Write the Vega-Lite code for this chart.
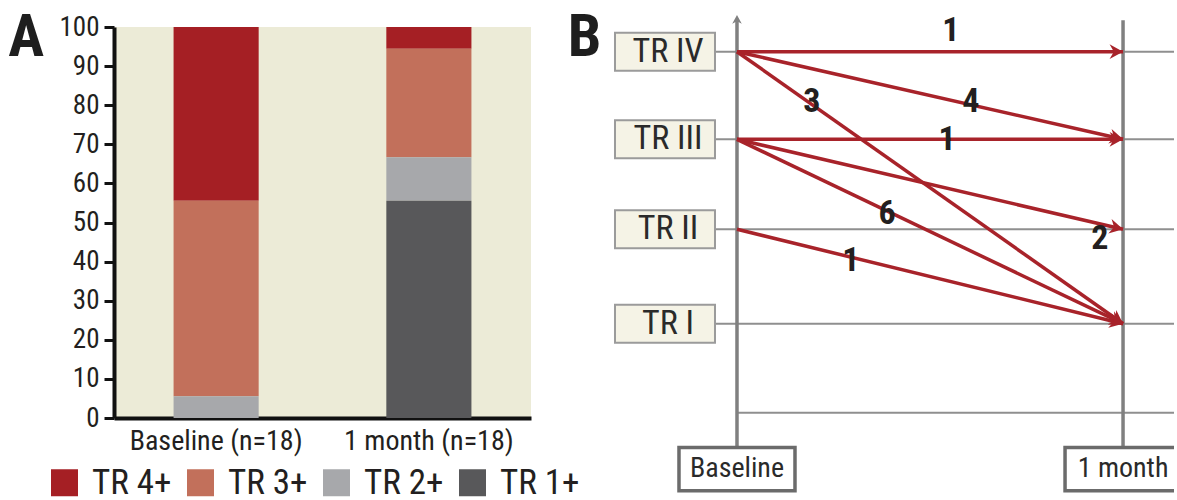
{
  "$schema": "https://vega.github.io/schema/vega-lite/v6.json",
  "background": "white",
  "padding": {"left": 8, "top": 8, "right": 0, "bottom": 0},
  "spacing": 84,
  "bounds": "flush",
  "config": {
    "font": "'Roboto Condensed', Roboto, sans-serif",
    "view": {"stroke": null},
    "axis": {"labelFont": "'Roboto Condensed', Roboto, sans-serif", "labelColor": "#231f20", "grid": false, "title": null, "labelLimit": 0},
    "legend": {"labelFont": "'Roboto Condensed', Roboto, sans-serif", "labelLimit": 0},
    "title": {"font": "'Roboto Condensed', Roboto, sans-serif"},
    "text": {"font": "'Roboto Condensed', Roboto, sans-serif"}
  },
  "datasets": {
    "shares": [
      {"visit": "Baseline (n=18)", "grade": "TR 4+", "pct": 44.44},
      {"visit": "Baseline (n=18)", "grade": "TR 3+", "pct": 50.0},
      {"visit": "Baseline (n=18)", "grade": "TR 2+", "pct": 5.56},
      {"visit": "1 month (n=18)", "grade": "TR 4+", "pct": 5.56},
      {"visit": "1 month (n=18)", "grade": "TR 3+", "pct": 27.78},
      {"visit": "1 month (n=18)", "grade": "TR 2+", "pct": 11.11},
      {"visit": "1 month (n=18)", "grade": "TR 1+", "pct": 55.55}
    ],
    "levels": [
      {"level": 4, "label": "TR IV"},
      {"level": 3, "label": "TR III"},
      {"level": 2, "label": "TR II"},
      {"level": 1, "label": "TR I"},
      {"level": 0, "label": ""}
    ],
    "times": [
      {"time": 0, "label": "Baseline"},
      {"time": 1, "label": "1 month"}
    ],
    "flows": [
      {"from": 4, "to": 4, "n": 1, "lx": 0.554, "ly": 4.231},
      {"from": 4, "to": 3, "n": 4, "lx": 0.606, "ly": 3.426},
      {"from": 4, "to": 1, "n": 3, "lx": 0.194, "ly": 3.426},
      {"from": 3, "to": 3, "n": 1, "lx": 0.544, "ly": 2.992},
      {"from": 3, "to": 2, "n": 2, "lx": 0.94, "ly": 1.897},
      {"from": 3, "to": 1, "n": 6, "lx": 0.389, "ly": 2.17},
      {"from": 2, "to": 1, "n": 1, "lx": 0.295, "ly": 1.664}
    ]
  },
  "hconcat": [
    {
      "width": 417,
      "height": 391,
      "view": {"fill": "#ecebd7", "stroke": null},
      "title": {"text": "A", "orient": "left", "anchor": "end", "frame": "group", "angle": 0, "align": "right", "baseline": "top", "fontSize": 60, "fontWeight": "bold", "color": "#1e1e1e", "offset": -21, "dy": -18},
      "data": {"name": "shares"},
      "mark": {"type": "bar"},
      "encoding": {
        "x": {
          "field": "visit", "type": "nominal",
          "sort": ["Baseline (n=18)", "1 month (n=18)"],
          "scale": {"paddingInner": 0.6, "paddingOuter": 0.28},
          "axis": {"labelAngle": 0, "labelFontSize": 28, "labelPadding": 9, "ticks": false, "domainColor": "#111111", "domainWidth": 4}
        },
        "y": {
          "field": "pct", "type": "quantitative", "stack": "zero",
          "scale": {"domain": [0, 100], "nice": false},
          "axis": {"values": [0, 10, 20, 30, 40, 50, 60, 70, 80, 90, 100], "labelFontSize": 27, "labelPadding": 5, "domainColor": "#111111", "domainWidth": 4, "tickColor": "#111111", "tickWidth": 3, "tickSize": 10}
        },
        "color": {
          "field": "grade", "type": "nominal",
          "scale": {"domain": ["TR 4+", "TR 3+", "TR 2+", "TR 1+"], "range": ["#a51f24", "#c2705b", "#a7a8ab", "#58585a"]},
          "legend": {"title": null, "orient": "none", "legendX": -67, "legendY": 438, "direction": "horizontal", "columns": 4, "symbolType": "square", "symbolSize": 729, "symbolStrokeWidth": 0, "symbolOpacity": 1, "labelFontSize": 35, "labelColor": "#231f20", "labelOffset": 10, "columnPadding": 11, "padding": 0}
        },
        "order": {"field": "grade", "sort": "ascending"}
      }
    },
    {
      "width": 559,
      "height": 475,
      "view": {"stroke": null},
      "title": {"text": "B", "orient": "left", "anchor": "end", "frame": "group", "angle": 0, "align": "right", "baseline": "top", "fontSize": 60, "fontWeight": "bold", "color": "#1e1e1e", "offset": -21, "dy": -18},
      "layer": [
        {
          "data": {"name": "levels"},
          "transform": [{"filter": "datum.level > 0"}],
          "mark": {"type": "rule", "color": "#8f8f8f", "strokeWidth": 2},
          "encoding": {
            "y": {"field": "level", "type": "quantitative", "scale": {"domain": [0, 1, 2, 3, 4], "range": [385.7, 296.7, 202.3, 112.3, 24.7], "nice": false, "zero": false}, "axis": null}
          }
        },
        {
          "data": {"name": "levels"},
          "transform": [{"filter": "datum.level == 0"}],
          "mark": {"type": "rule", "color": "#8f8f8f", "strokeWidth": 2},
          "encoding": {
            "x": {"datum": 0, "type": "quantitative", "scale": {"domain": [-0.316, 1.132], "nice": false, "zero": false}, "axis": null},
            "x2": {"value": "width"},
            "y": {"field": "level", "type": "quantitative", "scale": {"domain": [0, 1, 2, 3, 4], "range": [385.7, 296.7, 202.3, 112.3, 24.7], "nice": false, "zero": false}, "axis": null}
          }
        },
        {
          "data": {"name": "times"},
          "mark": {"type": "rule", "color": "#808080", "strokeWidth": 3.5},
          "encoding": {
            "x": {"field": "time", "type": "quantitative", "scale": {"domain": [-0.316, 1.132], "nice": false, "zero": false}, "axis": null},
            "y": {"datum": 4.36, "type": "quantitative", "scale": {"domain": [0, 1, 2, 3, 4], "range": [385.7, 296.7, 202.3, 112.3, 24.7], "nice": false, "zero": false}, "axis": null},
            "y2": {"datum": -0.392}
          }
        },
        {
          "data": {"name": "times"},
          "transform": [{"filter": "datum.time == 0"}],
          "mark": {"type": "point", "shape": "M0,0L-1.1,-0.6L-0.8,0L-1.1,0.6Z", "filled": true, "fill": "#808080", "strokeWidth": 0, "opacity": 1, "size": 256, "angle": 270},
          "encoding": {
            "x": {"field": "time", "type": "quantitative", "scale": {"domain": [-0.316, 1.132], "nice": false, "zero": false}, "axis": null},
            "y": {"datum": 4.42, "type": "quantitative", "scale": {"domain": [0, 1, 2, 3, 4], "range": [385.7, 296.7, 202.3, 112.3, 24.7], "nice": false, "zero": false}, "axis": null}
          }
        },
        {
          "data": {"name": "levels"},
          "transform": [{"filter": "datum.level > 0"}],
          "mark": {"type": "rect", "fill": "#f5f3e6", "stroke": "#9b9b9b", "strokeWidth": 2, "xOffset": -122, "x2Offset": -22, "yOffset": -19, "y2Offset": 19},
          "encoding": {
            "x": {"datum": 0, "type": "quantitative", "scale": {"domain": [-0.316, 1.132], "nice": false, "zero": false}, "axis": null},
            "x2": {"datum": 0},
            "y": {"field": "level", "type": "quantitative", "scale": {"domain": [0, 1, 2, 3, 4], "range": [385.7, 296.7, 202.3, 112.3, 24.7], "nice": false, "zero": false}, "axis": null},
            "y2": {"field": "level"}
          }
        },
        {
          "data": {"name": "levels"},
          "transform": [{"filter": "datum.level > 0"}],
          "mark": {"type": "text", "xOffset": -69, "fontSize": 34, "color": "#2a2a2a", "align": "center", "baseline": "middle"},
          "encoding": {
            "x": {"datum": 0, "type": "quantitative", "scale": {"domain": [-0.316, 1.132], "nice": false, "zero": false}, "axis": null},
            "y": {"field": "level", "type": "quantitative", "scale": {"domain": [0, 1, 2, 3, 4], "range": [385.7, 296.7, 202.3, 112.3, 24.7], "nice": false, "zero": false}, "axis": null},
            "text": {"field": "label"}
          }
        },
        {
          "data": {"name": "times"},
          "mark": {"type": "rect", "fill": "white", "stroke": "#6b6b6b", "strokeWidth": 3.5, "xOffset": -58, "x2Offset": 58, "clip": true},
          "encoding": {
            "x": {"field": "time", "type": "quantitative", "scale": {"domain": [-0.316, 1.132], "nice": false, "zero": false}, "axis": null},
            "x2": {"field": "time"},
            "y": {"datum": -0.392, "type": "quantitative", "scale": {"domain": [0, 1, 2, 3, 4], "range": [385.7, 296.7, 202.3, 112.3, 24.7], "nice": false, "zero": false}, "axis": null},
            "y2": {"datum": -0.877}
          }
        },
        {
          "data": {"name": "times"},
          "mark": {"type": "text", "fontSize": 28, "color": "#2a2a2a", "align": "center", "baseline": "middle"},
          "encoding": {
            "x": {"field": "time", "type": "quantitative", "scale": {"domain": [-0.316, 1.132], "nice": false, "zero": false}, "axis": null},
            "y": {"datum": -0.635, "type": "quantitative", "scale": {"domain": [0, 1, 2, 3, 4], "range": [385.7, 296.7, 202.3, 112.3, 24.7], "nice": false, "zero": false}, "axis": null},
            "text": {"field": "label"}
          }
        },
        {
          "data": {"name": "flows"},
          "mark": {"type": "rule", "color": "#a8232a", "strokeWidth": 3.5},
          "encoding": {
            "x": {"datum": 0, "type": "quantitative", "scale": {"domain": [-0.316, 1.132], "nice": false, "zero": false}, "axis": null},
            "x2": {"datum": 1},
            "y": {"field": "from", "type": "quantitative", "scale": {"domain": [0, 1, 2, 3, 4], "range": [385.7, 296.7, 202.3, 112.3, 24.7], "nice": false, "zero": false}, "axis": null},
            "y2": {"field": "to"}
          }
        },
        {
          "data": {"name": "flows"},
          "transform": [{"calculate": "atan2((datum.from - datum.to) * 90.6, 386) * 180 / PI", "as": "heading"}],
          "mark": {"type": "point", "shape": "M0,0L-1.1,-0.6L-0.75,0L-1.1,0.6Z", "filled": true, "fill": "#a8232a", "strokeWidth": 0, "opacity": 1, "size": 600},
          "encoding": {
            "x": {"datum": 1, "type": "quantitative", "scale": {"domain": [-0.316, 1.132], "nice": false, "zero": false}, "axis": null},
            "y": {"field": "to", "type": "quantitative", "scale": {"domain": [0, 1, 2, 3, 4], "range": [385.7, 296.7, 202.3, 112.3, 24.7], "nice": false, "zero": false}, "axis": null},
            "angle": {"field": "heading", "type": "quantitative", "scale": null}
          }
        },
        {
          "data": {"name": "flows"},
          "mark": {"type": "text", "fontSize": 34, "fontWeight": "bold", "color": "#231f20", "align": "center", "baseline": "middle"},
          "encoding": {
            "x": {"field": "lx", "type": "quantitative", "scale": {"domain": [-0.316, 1.132], "nice": false, "zero": false}, "axis": null},
            "y": {"field": "ly", "type": "quantitative", "scale": {"domain": [0, 1, 2, 3, 4], "range": [385.7, 296.7, 202.3, 112.3, 24.7], "nice": false, "zero": false}, "axis": null},
            "text": {"field": "n"}
          }
        }
      ]
    }
  ]
}
